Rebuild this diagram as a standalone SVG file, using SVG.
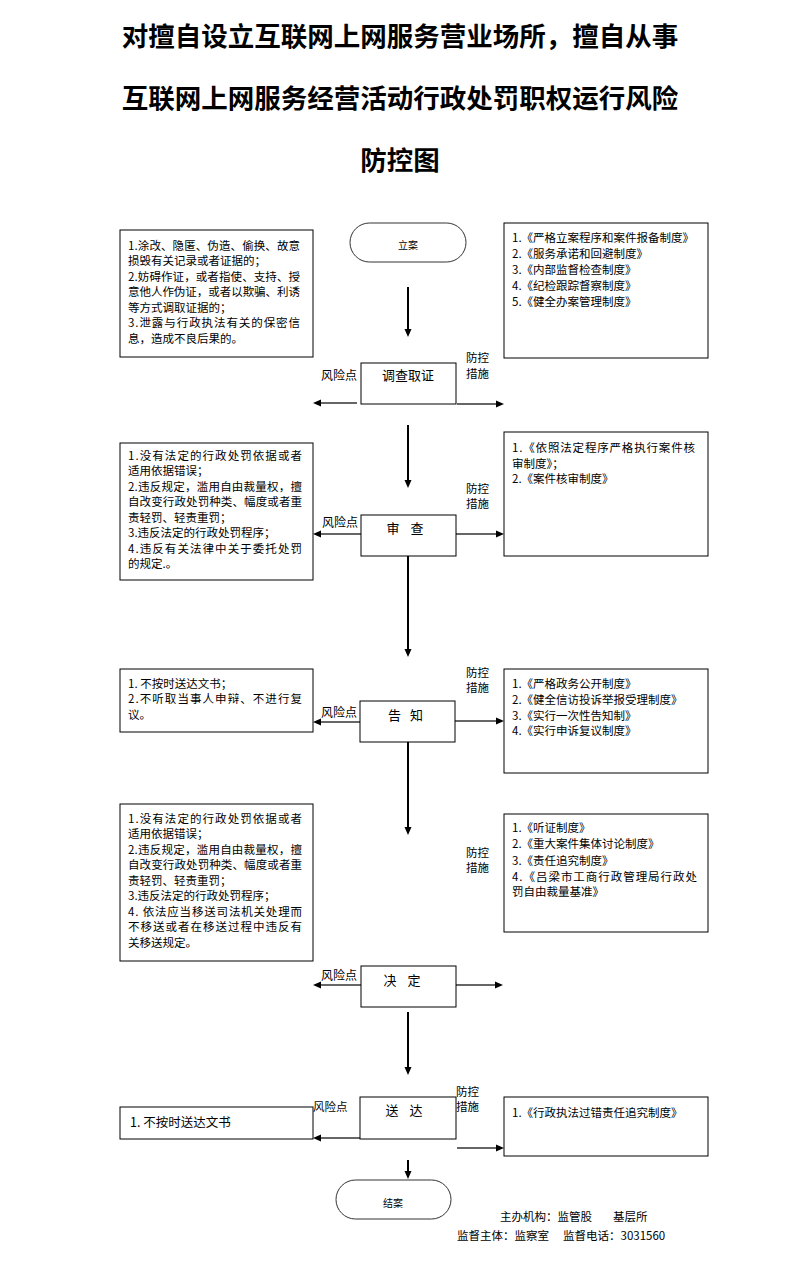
<svg xmlns="http://www.w3.org/2000/svg" width="793" height="1263" viewBox="0 0 793 1263">
<style>
text{font-family:"Noto Sans CJK SC","Liberation Sans",sans-serif;fill:#000}
.title{font-size:26.5px;font-weight:bold;text-anchor:middle}
.bx{fill:#fff;stroke:#000;stroke-width:1}
.term{fill:#fff;stroke:#333;stroke-width:1}
.t{font-size:11.5px}
.nt{font-size:13px;text-anchor:middle}
.lb{font-size:11.5px}
.lbe{font-size:12px;text-anchor:end}
.v{stroke:#000;stroke-width:2;fill:none}
.h{stroke:#333;stroke-width:1.5;fill:none}
</style>
<defs>
<marker id="ah" markerUnits="userSpaceOnUse" markerWidth="9" markerHeight="8" refX="0" refY="4" orient="auto"><path d="M0,0.5 L8,4 L0,7.5 z" fill="#000"/></marker>
</defs>
<rect width="793" height="1263" fill="#fff"/>
<g id="title">
<text class="title" x="400" y="46">对擅自设立互联网上网服务营业场所，擅自从事</text>
<text class="title" x="400" y="108">互联网上网服务经营活动行政处罚职权运行风险</text>
<text class="title" x="400" y="170">防控图</text>
</g>
<g id="connectors">
<line class="v" x1="408" y1="287" x2="408" y2="329" marker-end="url(#ah)"/>
<line class="h" x1="357" y1="403" x2="321" y2="403" marker-end="url(#ah)"/>
<line class="h" x1="457" y1="404" x2="496" y2="404" marker-end="url(#ah)"/>
<line class="v" x1="408" y1="425" x2="408" y2="480" marker-end="url(#ah)"/>
<line class="h" x1="361" y1="534" x2="321" y2="534" marker-end="url(#ah)"/>
<line class="h" x1="456" y1="534" x2="496" y2="534" marker-end="url(#ah)"/>
<line class="v" x1="408" y1="556" x2="408" y2="649" marker-end="url(#ah)"/>
<line class="h" x1="360" y1="722" x2="321" y2="722" marker-end="url(#ah)"/>
<line class="h" x1="455" y1="721" x2="496" y2="721" marker-end="url(#ah)"/>
<line class="v" x1="408" y1="742" x2="408" y2="827" marker-end="url(#ah)"/>
<line class="h" x1="361" y1="985" x2="321" y2="985" marker-end="url(#ah)"/>
<line class="h" x1="456" y1="985" x2="495" y2="985" marker-end="url(#ah)"/>
<line class="v" x1="408" y1="1012" x2="408" y2="1067" marker-end="url(#ah)"/>
<line class="h" x1="360" y1="1138" x2="321" y2="1138" marker-end="url(#ah)"/>
<line class="h" x1="457" y1="1148" x2="496" y2="1148" marker-end="url(#ah)"/>
<line class="v" x1="408" y1="1160" x2="408" y2="1171" marker-end="url(#ah)"/>
</g>
<g id="start">
<rect class="term" x="350" y="223" width="116" height="39" rx="19.5"/>
<text x="408" y="249" style="font-size:10px;text-anchor:middle">立案</text>
</g>
<g id="n-survey">
<rect class="bx" x="361" y="363" width="95" height="41"/>
<text class="nt" x="408" y="380">调查取证</text>
<text class="lbe" x="357" y="379.5">风险点</text>
<text class="lb" x="466" y="361.5">防控</text>
<text class="lb" x="466" y="377.5">措施</text>
</g>
<g id="risk1">
<rect class="bx" x="120" y="230" width="193" height="127"/>
<text class="t" x="128" y="249.5" textLength="172" lengthAdjust="spacing">1.涂改、隐匿、伪造、偷换、故意</text>
<text class="t" x="128" y="265">损毁有关记录或者证据的；</text>
<text class="t" x="128" y="280.5" textLength="172" lengthAdjust="spacing">2.妨碍作证，或者指使、支持、授</text>
<text class="t" x="128" y="296" textLength="172" lengthAdjust="spacing">意他人作伪证，或者以欺骗、利诱</text>
<text class="t" x="128" y="311.5">等方式调取证据的；</text>
<text class="t" x="128" y="327" textLength="172" lengthAdjust="spacing">3.泄露与行政执法有关的保密信</text>
<text class="t" x="128" y="342.5">息，造成不良后果的。</text>
</g>
<g id="ctrl1">
<rect class="bx" x="504" y="223" width="204" height="135"/>
<text class="t" x="512" y="241.5">1.《严格立案程序和案件报备制度》</text>
<text class="t" x="512" y="257.5">2.《服务承诺和回避制度》</text>
<text class="t" x="512" y="273.5">3.《内部监督检查制度》</text>
<text class="t" x="512" y="289.5">4.《纪检跟踪督察制度》</text>
<text class="t" x="512" y="305.5">5.《健全办案管理制度》</text>
</g>
<g id="n-review">
<rect class="bx" x="361" y="515" width="95" height="41"/>
<text class="nt" x="407" y="532.5" style="letter-spacing:4px">审 查</text>
<text class="lbe" x="358" y="526.5">风险点</text>
<text class="lb" x="466" y="492.5">防控</text>
<text class="lb" x="466" y="507.5">措施</text>
</g>
<g id="risk2">
<rect class="bx" x="120" y="443" width="193" height="137"/>
<text class="t" x="128" y="459.5" textLength="174" lengthAdjust="spacing">1.没有法定的行政处罚依据或者</text>
<text class="t" x="128" y="475">适用依据错误；</text>
<text class="t" x="128" y="490.5" textLength="174" lengthAdjust="spacing">2.违反规定，滥用自由裁量权，擅</text>
<text class="t" x="128" y="506" textLength="174" lengthAdjust="spacing">自改变行政处罚种类、幅度或者重</text>
<text class="t" x="128" y="521.5">责轻罚、轻责重罚；</text>
<text class="t" x="128" y="537">3.违反法定的行政处罚程序；</text>
<text class="t" x="128" y="552.5" textLength="174" lengthAdjust="spacing">4.违反有关法律中关于委托处罚</text>
<text class="t" x="128" y="568">的规定.。</text>
</g>
<g id="ctrl2">
<rect class="bx" x="504" y="432" width="204" height="124"/>
<text class="t" x="512" y="451.5" textLength="183" lengthAdjust="spacing">1.《依照法定程序严格执行案件核</text>
<text class="t" x="512" y="467.5">审制度》；</text>
<text class="t" x="512" y="482.5">2.《案件核审制度》</text>
</g>
<g id="n-notify">
<rect class="bx" x="360" y="701" width="95" height="41"/>
<text class="nt" x="407" y="719.5" style="letter-spacing:3px">告 知</text>
<text class="lbe" x="357" y="716.5">风险点</text>
<text class="lb" x="466" y="676.5">防控</text>
<text class="lb" x="466" y="691.5">措施</text>
</g>
<g id="risk3">
<rect class="bx" x="120" y="669" width="193" height="63"/>
<text class="t" x="128" y="687.5">1. 不按时送达文书；</text>
<text class="t" x="128" y="703" textLength="174" lengthAdjust="spacing">2.不听取当事人申辩、不进行复</text>
<text class="t" x="128" y="719">议。</text>
</g>
<g id="ctrl3">
<rect class="bx" x="504" y="669" width="204" height="104"/>
<text class="t" x="512" y="687.5">1.《严格政务公开制度》</text>
<text class="t" x="512" y="703.5">2.《健全信访投诉举报受理制度》</text>
<text class="t" x="512" y="719.5">3.《实行一次性告知制》</text>
<text class="t" x="512" y="734.5">4.《实行申诉复议制度》</text>
</g>
<g id="n-decide">
<rect class="bx" x="361" y="966" width="95" height="41"/>
<text class="nt" x="404" y="984.5" style="letter-spacing:4px">决 定</text>
<text class="lbe" x="357" y="979.5">风险点</text>
<text class="lb" x="466" y="856.5">防控</text>
<text class="lb" x="466" y="871.5">措施</text>
</g>
<g id="risk4">
<rect class="bx" x="120" y="804" width="193" height="157"/>
<text class="t" x="128" y="822.5" textLength="174" lengthAdjust="spacing">1.没有法定的行政处罚依据或者</text>
<text class="t" x="128" y="838">适用依据错误；</text>
<text class="t" x="128" y="853.5" textLength="174" lengthAdjust="spacing">2.违反规定，滥用自由裁量权，擅</text>
<text class="t" x="128" y="869" textLength="174" lengthAdjust="spacing">自改变行政处罚种类、幅度或者重</text>
<text class="t" x="128" y="884.5">责轻罚、轻责重罚；</text>
<text class="t" x="128" y="900">3.违反法定的行政处罚程序；</text>
<text class="t" x="128" y="915.5" textLength="174" lengthAdjust="spacing">4.  依法应当移送司法机关处理而</text>
<text class="t" x="128" y="931" textLength="174" lengthAdjust="spacing">不移送或者在移送过程中违反有</text>
<text class="t" x="128" y="946.5">关移送规定。</text>
</g>
<g id="ctrl4">
<rect class="bx" x="504" y="814" width="204" height="118"/>
<text class="t" x="512" y="831.5">1.《听证制度》</text>
<text class="t" x="512" y="847.5">2.《重大案件集体讨论制度》</text>
<text class="t" x="512" y="864.5">3.《责任追究制度》</text>
<text class="t" x="512" y="880.5" textLength="185" lengthAdjust="spacing">4.《吕梁市工商行政管理局行政处</text>
<text class="t" x="512" y="895.5">罚自由裁量基准》</text>
</g>
<g id="n-deliver">
<rect class="bx" x="360" y="1097" width="96" height="42"/>
<text class="nt" x="406" y="1114.5" style="letter-spacing:4px">送 达</text>
<text class="lb" x="313" y="1110.5">风险点</text>
<text class="lb" x="456" y="1096">防控</text>
<text class="lb" x="456" y="1111">措施</text>
</g>
<g id="risk5">
<rect class="bx" x="120" y="1107" width="193" height="32"/>
<text x="130" y="1127" style="font-size:12.5px">1.  不按时送达文书</text>
</g>
<g id="ctrl5">
<rect class="bx" x="504" y="1097" width="204" height="59"/>
<text class="t" x="512" y="1116.5">1.《行政执法过错责任追究制度》</text>
</g>
<g id="end">
<rect class="term" x="336" y="1180" width="115" height="39" rx="19.5"/>
<text x="393" y="1207" style="font-size:10px;text-anchor:middle">结案</text>
</g>
<g id="footer">
<text class="t" x="500" y="1221">主办机构：监管股<tspan x="613">基层所</tspan></text>
<text class="t" x="457" y="1239.5">监督主体：监察室<tspan x="563">监督电话：3031560</tspan></text>
</g>
</svg>
